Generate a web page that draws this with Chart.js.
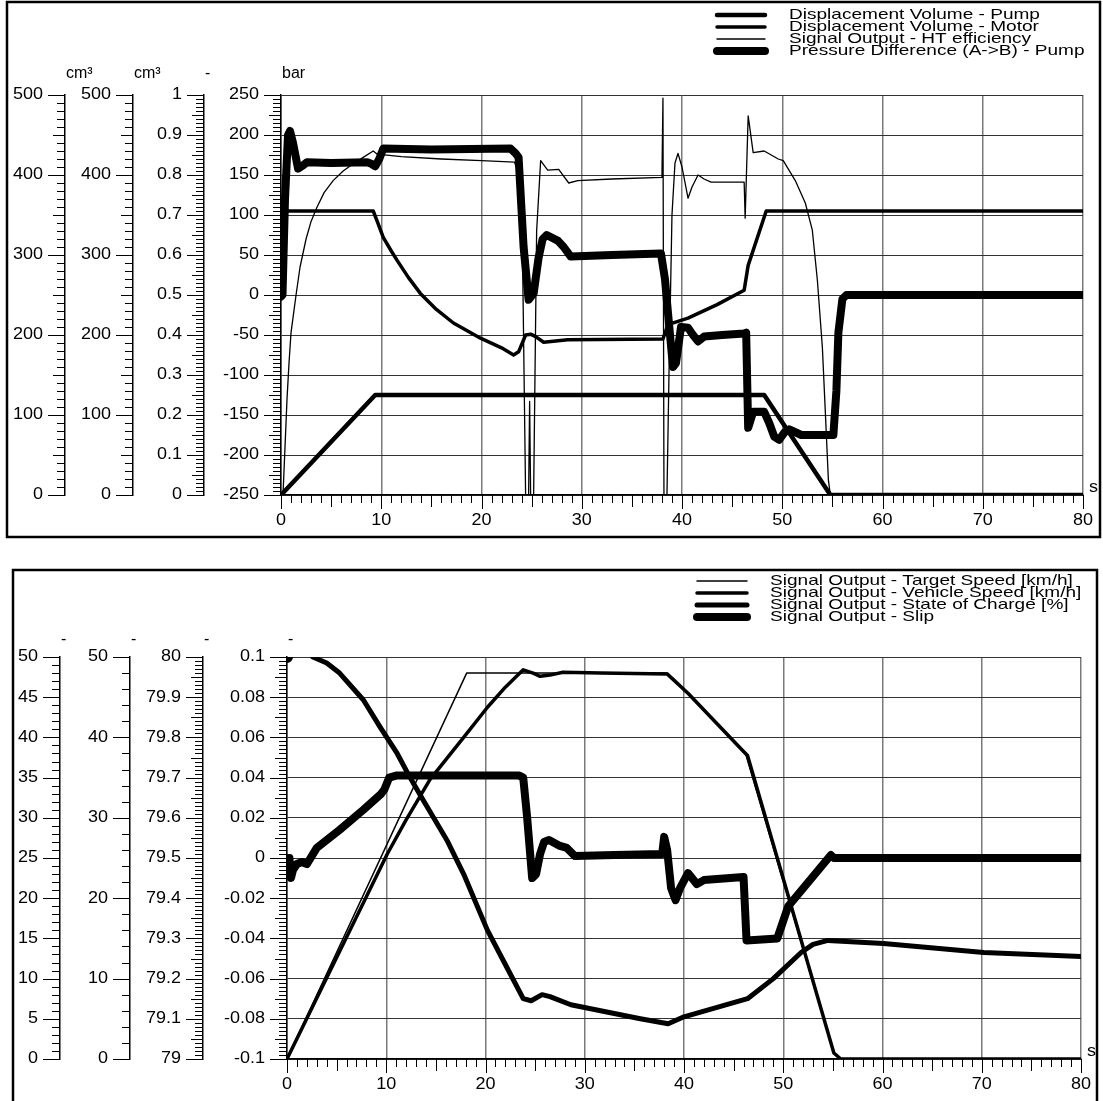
<!DOCTYPE html>
<html>
<head>
<meta charset="utf-8">
<script src="https://cdn.jsdelivr.net/npm/chart.js@4.4.1/dist/chart.umd.min.js"></script>
<style>
html,body{margin:0;padding:0;background:#fff;overflow:hidden;}
#w1{position:absolute;left:0;top:0;width:1103px;height:545px;}
#w2{position:absolute;left:0;top:548px;width:1103px;height:553px;}
</style>
</head>
<body>
<div id="w1"><canvas id="c1"></canvas></div>
<div id="w2"><canvas id="c2"></canvas></div>
<script>
// ---------------- DATA ----------------
const timeTicks = [0, 10, 20, 30, 40, 50, 60, 70, 80];
const timeUnit = 's';

// Top chart
const topSeriesNames = ['Displacement Volume - Pump', 'Displacement Volume - Motor', 'Signal Output - HT efficiency', 'Pressure Difference (A->B) - Pump'];
const topAxisTitles = ['cm³', 'cm³', '-', 'bar'];
const pumpAxisTicks = [0, 100, 200, 300, 400, 500];
const motorAxisTicks = [0, 100, 200, 300, 400, 500];
const effAxisTicks = [0, 0.1, 0.2, 0.3, 0.4, 0.5, 0.6, 0.7, 0.8, 0.9, 1];
const barAxisTicks = [-250, -200, -150, -100, -50, 0, 50, 100, 150, 200, 250];

// [time s, cm³]
const pumpDisplacement = [[0, 0], [9.4, 125], [48.2, 125], [54.8, 0], [80, 0]];
// [time s, cm³]
const motorDisplacement = [[0, 355], [9.2, 355], [9.6, 342], [10.2, 322], [11.0, 305], [11.6, 293], [12.7, 272], [13.9, 252], [15.5, 232], [17.2, 215], [19.9, 196], [22.0, 184], [23.2, 175], [23.7, 179], [24.4, 200], [24.9, 201], [25.4, 198], [26.2, 191], [28.6, 194], [38.1, 195], [38.6, 213], [40.6, 221], [43.5, 238], [46.2, 256], [46.6, 287], [48.4, 355], [80, 355]];
// [time s, -]
const htEfficiency = [[0, 0], [0.2, 0], [0.4, 0.12], [0.6, 0.24], [0.8, 0.33], [1.0, 0.406], [1.5, 0.5], [1.9, 0.57], [2.5, 0.64], [3.0, 0.684], [3.6, 0.72], [4.3, 0.756], [5.2, 0.786], [6.2, 0.81], [7.2, 0.828], [8.2, 0.844], [9.2, 0.86], [9.6, 0.852], [12, 0.846], [16, 0.84], [20, 0.836], [23.3, 0.832], [24.0, 0.78], [24.4, 0], [24.7, 0], [24.8, 0.234], [24.9, 0], [25.2, 0], [25.5, 0.66], [25.9, 0.836], [26.6, 0.812], [27.7, 0.814], [28.7, 0.78], [29.6, 0.786], [33, 0.79], [38.0, 0.794], [38.1, 0.992], [38.2, 0], [38.5, 0], [38.7, 0.3], [39.0, 0.7], [39.3, 0.83], [39.6, 0.854], [40.0, 0.82], [40.6, 0.742], [41.0, 0.77], [41.6, 0.8], [42.2, 0.79], [42.9, 0.782], [46.2, 0.782], [46.3, 0.692], [46.6, 0.948], [47.1, 0.856], [48.2, 0.86], [49.6, 0.84], [50.1, 0.836], [51.3, 0.786], [52.3, 0.73], [53.0, 0.662], [53.5, 0.538], [54.0, 0.37], [54.3, 0.206], [54.6, 0.038], [54.8, 0], [80, 0]];
// [time s, bar]
const pressureDiff = [[0, -2], [0.15, 0], [0.4, 120], [0.7, 200], [0.9, 205], [1.2, 190], [1.7, 158], [2.2, 162], [2.6, 166], [5, 165], [8.6, 166], [9.0, 164], [9.4, 161], [9.8, 170], [10.2, 183], [15, 182], [22.9, 183], [23.4, 177], [23.7, 172], [24.2, 60], [24.7, -6], [25.2, 2], [25.7, 47], [26.1, 70], [26.5, 75], [27.6, 68], [28.2, 60], [28.9, 48], [33, 50], [37.9, 52], [38.3, 20], [38.6, -22], [39.1, -90], [39.4, -85], [39.9, -40], [40.6, -41], [41.1, -50], [41.6, -58], [42.2, -52], [44, -50], [46.2, -48], [46.4, -47], [46.6, -166], [47.1, -146], [48.2, -146], [48.7, -160], [49.2, -177], [49.7, -181], [50.2, -172], [50.7, -168], [51.9, -175], [55.1, -175], [55.4, -120], [55.6, -47], [56.0, -5], [56.4, 0], [80, 0]];

// Bottom chart
const botSeriesNames = ['Signal Output - Target Speed [km/h]', 'Signal Output - Vehicle Speed [km/h]', 'Signal Output - State of Charge [%]', 'Signal Output - Slip'];
const botAxisTitles = ['-', '-', '-', '-'];
const targetAxisTicks = [0, 5, 10, 15, 20, 25, 30, 35, 40, 45, 50];
const vehicleAxisTicks = [0, 10, 20, 30, 40, 50];
const socAxisTicks = [79, 79.1, 79.2, 79.3, 79.4, 79.5, 79.6, 79.7, 79.8, 79.9, 80];
const slipAxisTicks = [-0.1, -0.08, -0.06, -0.04, -0.02, 0, 0.02, 0.04, 0.06, 0.08, 0.1];

// [time s, km/h]
const targetSpeed = [[0, 0], [18.1, 48], [24, 48], [38.3, 48], [40.4, 45.5], [46.2, 38], [55.1, 0.75], [55.8, 0], [80, 0]];
// [time s, km/h]
const vehicleSpeed = [[0, 0], [10.1, 25.5], [12, 29.75], [14.4, 34.75], [17.8, 40], [20.2, 43.75], [22, 46.25], [23.8, 48.4], [24.8, 48], [25.5, 47.6], [26.5, 47.75], [27.8, 48.1], [31.6, 48], [38.3, 47.9], [40.4, 45.5], [46.0, 38.25], [46.4, 37.75], [55.1, 0.75], [55.8, 0], [80, 0]];
// [time s, %]
const stateOfCharge = [[0, 80], [1, null], [2.6, 80], [4, 79.985], [5.3, 79.96], [7.7, 79.893], [9.4, 79.825], [11.1, 79.76], [12.4, 79.70], [13.7, 79.645], [16.1, 79.545], [17.8, 79.46], [20.2, 79.32], [22, 79.235], [23.8, 79.15], [24.6, 79.145], [25.7, 79.16], [26.5, 79.155], [28.6, 79.135], [35.6, 79.10], [38.4, 79.0875], [40, 79.105], [46.4, 79.15], [49, 79.20], [51.8, 79.265], [53, 79.285], [54.5, 79.295], [60.1, 79.2875], [70.2, 79.265], [80, 79.255]];
// [time s, -]
const slip = [[0, 0], [0.1, -0.008], [0.25, 0], [0.4, -0.01], [0.6, -0.006], [1, -0.003], [1.5, -0.002], [2, -0.003], [3, 0.005], [5.3, 0.014], [7.7, 0.024], [9.5, 0.032], [9.8, 0.034], [10.3, 0.04], [11, 0.041], [23.4, 0.041], [23.8, 0.04], [24.2, 0.02], [24.7, -0.01], [25.1, -0.008], [25.5, 0.002], [25.9, 0.008], [26.4, 0.009], [27.5, 0.006], [28.2, 0.005], [29, 0.001], [33, 0.0015], [37.8, 0.002], [38.0, 0.0105], [38.3, 0.004], [38.7, -0.015], [39.15, -0.021], [39.6, -0.015], [40.4, -0.0075], [41.3, -0.013], [42, -0.011], [46.0, -0.0095], [46.3, -0.041], [49.4, -0.04], [50.5, -0.024], [54.8, 0.0015], [55.1, 0], [80, 0]];

// ---------------- RENDERING ----------------
const FONT = '"Liberation Sans", Arial, sans-serif';
Chart.defaults.font.family = FONT;
Chart.defaults.color = '#000';

function pts(arr) { return arr.map(p => ({ x: p[0], y: p[1] })); }
function fmt(v) { return String(+(+v).toFixed(6)); }

function yAxis(o) {
  return {
    type: 'linear', position: 'left', weight: o.weight,
    min: o.ticks[0], max: o.ticks[o.ticks.length - 1],
    afterFit: s => { s.width = o.width; },
    afterBuildTicks: s => { s.ticks = o.ticks.map(v => ({ value: v })); },
    ticks: { display: false, autoSkip: false, padding: 0 },
    grid: { drawOnChartArea: !!o.grid, drawTicks: false, color: '#333', lineWidth: 1 },
    border: { display: true, color: '#000', width: 1.5 }
  };
}
function xAxis(h) {
  return {
    type: 'linear', position: 'bottom', min: 0, max: 80,
    afterFit: s => { s.height = h; },
    afterBuildTicks: s => { s.ticks = timeTicks.map(v => ({ value: v })); },
    ticks: { display: false, autoSkip: false, maxRotation: 0, padding: 0 },
    grid: { drawTicks: false, color: '#7a7a7a', lineWidth: 1.5 },
    border: { display: true, color: '#000', width: 1.5 }
  };
}
function ds(label, data, axis, w, extra) {
  return Object.assign({
    label, data: pts(data), yAxisID: axis, borderWidth: w, borderColor: '#000', backgroundColor: '#000',
    pointRadius: 0, pointHoverRadius: 0, fill: false, tension: 0, spanGaps: false,
    borderCapStyle: 'round', borderJoinStyle: 'round'
  }, extra || {});
}
function sText(ctx, txt, x, y, size, sx, align) {
  ctx.save();
  ctx.font = size + 'px ' + FONT;
  ctx.textBaseline = 'middle';
  ctx.textAlign = align;
  ctx.translate(x, y);
  ctx.scale(sx, 1);
  ctx.fillText(txt, 0, 0);
  ctx.restore();
}

const decor = {
  id: 'decor',
  afterDraw(chart, args, o) {
    const ctx = chart.ctx, ca = chart.chartArea;
    ctx.save();
    ctx.strokeStyle = '#000'; ctx.fillStyle = '#000'; ctx.lineWidth = 1;
    // y axes: minor / major ticks, labels, titles
    o.yAxes.forEach(a => {
      const s = chart.scales[a.id];
      const x = s.right;
      const n = Math.round((s.max - s.min) / a.minor);
      for (let i = 0; i <= n; i++) {
        const v = s.min + i * a.minor;
        const y = Math.round(s.getPixelForValue(v)) + 0.5;
        let len = 8;
        if (i % a.majorEvery === 0) len = 17; else if (a.medEvery && i % a.medEvery === 0) len = 12;
        ctx.beginPath(); ctx.moveTo(x - len, y); ctx.lineTo(x, y); ctx.stroke();
      }
      s.ticks.forEach(t => {
        sText(ctx, fmt(t.value), x - 22, s.getPixelForValue(t.value), 16, 1.125, 'right');
      });
      sText(ctx, a.title, x + 1, s.top - o.titleDy, 16, 1.0, 'left');
    });
    // x ticks and labels
    const xs = chart.scales.x;
    for (let t = 0; t <= 80; t++) {
      const x = Math.round(xs.getPixelForValue(t)) + 0.5;
      const len = t % 10 === 0 ? 14 : (t % 5 === 0 ? 12 : 8);
      ctx.beginPath(); ctx.moveTo(x, ca.bottom); ctx.lineTo(x, ca.bottom + len); ctx.stroke();
    }
    xs.ticks.forEach(t => {
      sText(ctx, fmt(t.value), xs.getPixelForValue(t.value), ca.bottom + 26, 16, 1.125, 'center');
    });
    // unit label
    sText(ctx, timeUnit, ca.right + 6, ca.bottom - 7, 16, 1.125, 'left');
    // legend
    const L = o.legend;
    chart.data.datasets.forEach((d, i) => {
      const y = L.y + i * L.dy;
      ctx.lineCap = 'round'; ctx.lineWidth = d.borderWidth;
      ctx.beginPath(); ctx.moveTo(L.x0, y); ctx.lineTo(L.x1, y); ctx.stroke();
      sText(ctx, d.label, L.xt, y, 15, 1.27, 'left');
    });
    // frame
    ctx.lineWidth = 2.5; ctx.lineCap = 'butt';
    ctx.strokeRect(o.frame[0], o.frame[1], o.frame[2], o.frame[3]);
    ctx.restore();
  }
};

new Chart(document.getElementById('c1'), {
  type: 'line',
  data: {
    datasets: [
      ds(topSeriesNames[0], pumpDisplacement, 'yPump', 4.5),
      ds(topSeriesNames[1], motorDisplacement, 'yMotor', 3.5),
      ds(topSeriesNames[2], htEfficiency, 'yEff', 1.3),
      ds(topSeriesNames[3], pressureDiff, 'yBar', 8)
    ]
  },
  options: {
    responsive: true, maintainAspectRatio: false, animation: false,
    layout: { padding: { left: 0, right: 20, top: 95, bottom: 0 } },
    plugins: {
      legend: { display: false }, tooltip: { enabled: false },
      decor: {
        titleDy: 21,
        yAxes: [
          { id: 'yPump', minor: 10, majorEvery: 10, medEvery: 5, title: topAxisTitles[0] },
          { id: 'yMotor', minor: 10, majorEvery: 10, medEvery: 5, title: topAxisTitles[1] },
          { id: 'yEff', minor: 0.01, majorEvery: 10, medEvery: 5, title: topAxisTitles[2] },
          { id: 'yBar', minor: 5, majorEvery: 10, medEvery: 5, title: topAxisTitles[3] }
        ],
        legend: { x0: 717, x1: 765, xt: 789, y: 15, dy: 12 },
        frame: [7, 2, 1093, 535]
      }
    },
    scales: {
      x: xAxis(50),
      yPump: yAxis({ ticks: pumpAxisTicks, width: 65, weight: 4 }),
      yMotor: yAxis({ ticks: motorAxisTicks, width: 68, weight: 3 }),
      yEff: yAxis({ ticks: effAxisTicks, width: 71, weight: 2 }),
      yBar: yAxis({ ticks: barAxisTicks, width: 77, weight: 1, grid: true })
    }
  },
  plugins: [decor]
});

new Chart(document.getElementById('c2'), {
  type: 'line',
  data: {
    datasets: [
      ds(botSeriesNames[0], targetSpeed, 'yTarget', 1.5),
      ds(botSeriesNames[1], vehicleSpeed, 'yVehicle', 3.5),
      ds(botSeriesNames[2], stateOfCharge, 'ySoc', 5, { pointRadius: c => c.dataIndex === 0 ? 3.5 : 0 }),
      ds(botSeriesNames[3], slip, 'ySlip', 8)
    ]
  },
  options: {
    responsive: true, maintainAspectRatio: false, animation: false,
    layout: { padding: { left: 0, right: 22, top: 109, bottom: 0 } },
    plugins: {
      legend: { display: false }, tooltip: { enabled: false },
      decor: {
        titleDy: 17,
        yAxes: [
          { id: 'yTarget', minor: 1, majorEvery: 5, medEvery: 0, title: botAxisTitles[0] },
          { id: 'yVehicle', minor: 2, majorEvery: 5, medEvery: 0, title: botAxisTitles[1] },
          { id: 'ySoc', minor: 0.01, majorEvery: 10, medEvery: 5, title: botAxisTitles[2] },
          { id: 'ySlip', minor: 0.002, majorEvery: 10, medEvery: 5, title: botAxisTitles[3] }
        ],
        legend: { x0: 697, x1: 747, xt: 770, y: 33, dy: 12 },
        frame: [13, 22, 1084, 700]
      }
    },
    scales: {
      x: xAxis(42),
      yTarget: yAxis({ ticks: targetAxisTicks, width: 60, weight: 4 }),
      yVehicle: yAxis({ ticks: vehicleAxisTicks, width: 70, weight: 3 }),
      ySoc: yAxis({ ticks: socAxisTicks, width: 73, weight: 2 }),
      ySlip: yAxis({ ticks: slipAxisTicks, width: 84, weight: 1, grid: true })
    }
  },
  plugins: [decor]
});
</script>
</body>
</html>
